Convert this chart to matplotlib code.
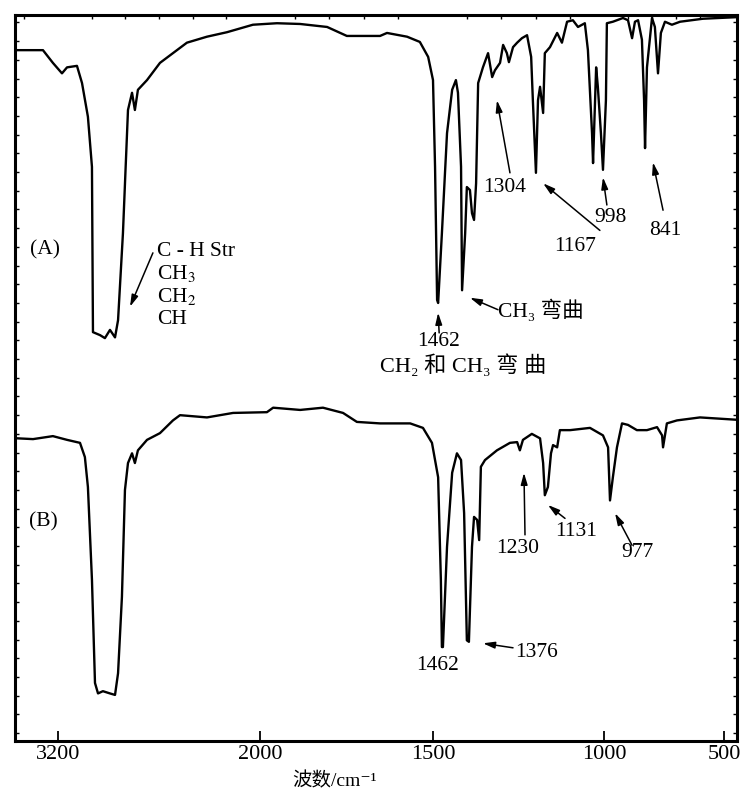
import numpy as np
import matplotlib.pyplot as plt

plt.rcParams['font.family'] = ['Liberation Serif', 'DejaVu Serif', 'Noto Sans CJK SC']
plt.rcParams['mathtext.fontset'] = 'stix'

# 谱图 (A)：波数 / cm-1 与透过率
wn_a = [3455, 3289, 3230, 3176, 3146, 3087, 3057, 3022, 2998, 2992, 2950, 2921, 2891, 2861,
        2843, 2814, 2784, 2760, 2743, 2725, 2671, 2594, 2517, 2434, 2315, 2196, 2042, 1951,
        1884, 1806, 1749, 1653, 1633, 1575, 1538, 1514, 1500, 1494, 1488, 1485, 1474, 1459,
        1444, 1433, 1427, 1418, 1415, 1406, 1401, 1392, 1386, 1380, 1374, 1368, 1354, 1339,
        1327, 1319, 1304, 1295, 1284, 1278, 1266, 1254, 1240, 1225, 1213, 1208, 1199, 1193,
        1187, 1178, 1173, 1158, 1137, 1123, 1108, 1091, 1076, 1064, 1056, 1047, 1035, 1032,
        1023, 1018, 1009, 1003, 992, 988, 963, 921, 900, 883, 871, 858, 842, 833, 829, 821,
        800, 788, 775, 763, 746, 717, 683, 588, 454]
t_a = [95.3, 95.3, 93.6, 92.2, 93.0, 93.2, 90.9, 86.4, 79.7, 57.6, 57.2, 56.8, 57.9, 56.9,
       59.2, 70.8, 87.3, 89.6, 87.3, 90.0, 91.3, 93.6, 94.9, 96.3, 97.1, 97.7, 98.7, 98.9,
       98.8, 98.4, 97.2, 97.2, 97.6, 97.1, 96.4, 94.4, 91.3, 79.7, 61.9, 61.5, 70.8, 84.2,
       90.0, 91.3, 89.6, 79.7, 63.2, 70.8, 77.0, 76.6, 73.5, 72.6, 77.5, 90.9, 93.0, 94.9,
       91.7, 92.6, 93.6, 96.0, 94.9, 93.7, 95.7, 96.3, 96.9, 97.3, 94.4, 88.6, 78.9, 88.6,
       90.4, 86.9, 94.9, 95.7, 97.6, 96.3, 99.1, 99.3, 98.4, 98.7, 98.9, 95.3, 84.2, 80.2,
       93.0, 90.4, 84.2, 79.3, 88.6, 98.9, 99.1, 99.6, 99.3, 96.9, 99.1, 99.3, 96.7, 88.6,
       82.2, 93.0, 99.6, 98.4, 92.2, 97.6, 99.1, 98.7, 99.1, 99.5, 99.7]

# 谱图 (B)
wn_b = [3437, 3348, 3230, 3146, 3069, 3040, 3022, 2998, 2980, 2962, 2933, 2891, 2861, 2843,
        2820, 2802, 2784, 2760, 2743, 2725, 2671, 2594, 2517, 2475, 2315, 2160, 1980, 1962,
        1884, 1818, 1760, 1720, 1653, 1566, 1529, 1503, 1485, 1477, 1474, 1471, 1459, 1444,
        1430, 1418, 1409, 1401, 1395, 1386, 1380, 1371, 1365, 1360, 1348, 1313, 1275, 1254,
        1246, 1237, 1211, 1187, 1178, 1173, 1164, 1155, 1149, 1137, 1129, 1099, 1041, 1003,
        983, 975, 963, 946, 925, 900, 863, 821, 779, 758, 754, 738, 696, 600, 454]
t_b = [43.4, 43.3, 43.7, 43.2, 42.8, 40.9, 36.9, 24.5, 10.7, 9.3, 9.6, 9.3, 9.1, 12.0,
       22.2, 36.5, 40.1, 41.4, 40.1, 41.8, 43.2, 44.1, 45.8, 46.5, 46.2, 46.8, 46.9, 47.5,
       47.2, 47.5, 46.8, 45.6, 45.4, 45.4, 44.8, 42.8, 38.2, 24.5, 15.5, 15.5, 28.9, 38.8,
       41.4, 40.5, 33.4, 16.4, 16.2, 28.9, 32.9, 32.5, 29.8, 39.6, 40.5, 41.8, 42.8, 42.9,
       41.8, 43.2, 44.0, 43.4, 40.1, 35.8, 36.9, 41.4, 42.5, 42.2, 44.5, 44.5, 44.8, 43.8,
       42.2, 35.1, 38.2, 42.2, 45.4, 45.2, 44.5, 44.5, 44.9, 43.8, 42.2, 45.4, 45.8, 46.2, 45.9]

tick_wn = [3200, 2000, 1500, 1000, 500]

# 横轴分段线性刻度（2000 cm-1 处换挡）
scale_wn = [446, 500, 1000, 1500, 2000, 3455]
scale_pos = [0, 13, 133, 304, 477, 722]


def fwd(w):
    return np.interp(w, scale_wn, scale_pos)


def inv(p):
    return np.interp(p, scale_pos, scale_wn)


fig = plt.figure(figsize=(7.42, 7.94), dpi=100)
ax = fig.add_axes([15 / 742, 1 - 741 / 794, 722 / 742, 726 / 794])
ax.set_xscale('function', functions=(fwd, inv))

ax.plot(wn_a, t_a, color='black', lw=1.7)
ax.plot(wn_b, t_b, color='black', lw=1.7)

ax.set_xlim(3455, 446)
ax.set_ylim(2.94, 100)
ax.set_xticks(tick_wn)
ax.set_xticklabels([str(v) for v in tick_wn], fontsize=16)
ax.set_xticks(list(range(3400, 2000, -200)) + list(range(2000, 450, -100)), minor=True)
ax.set_yticks([])
ax.set_yticks(np.arange(4, 100, 2.5), minor=True)
ax.tick_params(axis='x', direction='in', length=7, width=1.3, pad=3, top=False)
ax.tick_params(axis='x', which='minor', direction='in', length=3, width=1,
               bottom=False, top=True)
ax.tick_params(axis='y', which='minor', direction='in', length=3, width=1,
               left=True, right=True)
for s in ax.spines.values():
    s.set_linewidth(2.2)

ax.set_xlabel('波数/cm⁻¹', fontsize=14, va='top')
ax.xaxis.set_label_coords(0.443, -0.043)

fs = 15.5
ap = dict(arrowstyle='-|>,head_length=0.7,head_width=0.2', color='black', lw=1.1,
          shrinkA=0, shrinkB=0)

# (A) 标注
ax.text(3277, 68.6, '(A)', fontsize=fs, ha='center', va='center')
ax.text(2612, 68.4, 'C - H Str', fontsize=fs, ha='left', va='center')
ax.text(2612, 65.4, 'CH$_3$', fontsize=fs, ha='left', va='center')
ax.text(2612, 62.4, 'CH$_2$', fontsize=fs, ha='left', va='center')
ax.text(2612, 59.3, 'CH', fontsize=fs, ha='left', va='center')
ax.annotate('', xy=(2772, 61.0), xytext=(2636, 68.2), arrowprops=ap)

ax.text(1289, 76.9, '1304', fontsize=fs, ha='center', va='center')
ax.annotate('', xy=(1313, 88.6), xytext=(1275, 78.9), arrowprops=ap)
ax.text(1085, 69.0, '1167', fontsize=fs, ha='center', va='center')
ax.annotate('', xy=(1178, 77.5), xytext=(1012, 71.2), arrowprops=ap)
ax.text(975, 72.9, '998', fontsize=fs, ha='center', va='center')
ax.annotate('', xy=(1003, 78.3), xytext=(988, 74.6), arrowprops=ap)
ax.text(746, 71.2, '841', fontsize=fs, ha='center', va='center')
ax.annotate('', xy=(796, 80.3), xytext=(754, 73.9), arrowprops=ap)

ax.text(1310, 60.4, 'CH₃ 弯曲', fontsize=fs, ha='left', va='center')
ax.annotate('', xy=(1392, 62.2), xytext=(1310, 60.6), arrowprops=ap)
ax.text(1485, 56.3, '1462', fontsize=fs, ha='center', va='center')
ax.annotate('', xy=(1485, 60.2), xytext=(1482, 57.5), arrowprops=ap)
ax.text(1653, 53.1, 'CH₂ 和 CH₃ 弯 曲', fontsize=16, ha='left', va='center')

# (B) 标注
ax.text(3289, 32.2, '(B)', fontsize=fs, ha='center', va='center')
ax.text(1251, 28.7, '1230', fontsize=fs, ha='center', va='center')
ax.annotate('', xy=(1234, 38.8), xytext=(1231, 30.5), arrowprops=ap)
ax.text(1082, 30.9, '1131', fontsize=fs, ha='center', va='center')
ax.annotate('', xy=(1164, 34.5), xytext=(1114, 32.7), arrowprops=ap)
ax.text(863, 28.1, '977', fontsize=fs, ha='center', va='center')
ax.annotate('', xy=(954, 33.4), xytext=(883, 29.1), arrowprops=ap)
ax.text(1260, 14.8, '1376', fontsize=fs, ha='left', va='center')
ax.annotate('', xy=(1354, 16.0), xytext=(1266, 15.4), arrowprops=ap)
ax.text(1488, 13.1, '1462', fontsize=fs, ha='center', va='center')

fig.savefig('out.png', dpi=100)
